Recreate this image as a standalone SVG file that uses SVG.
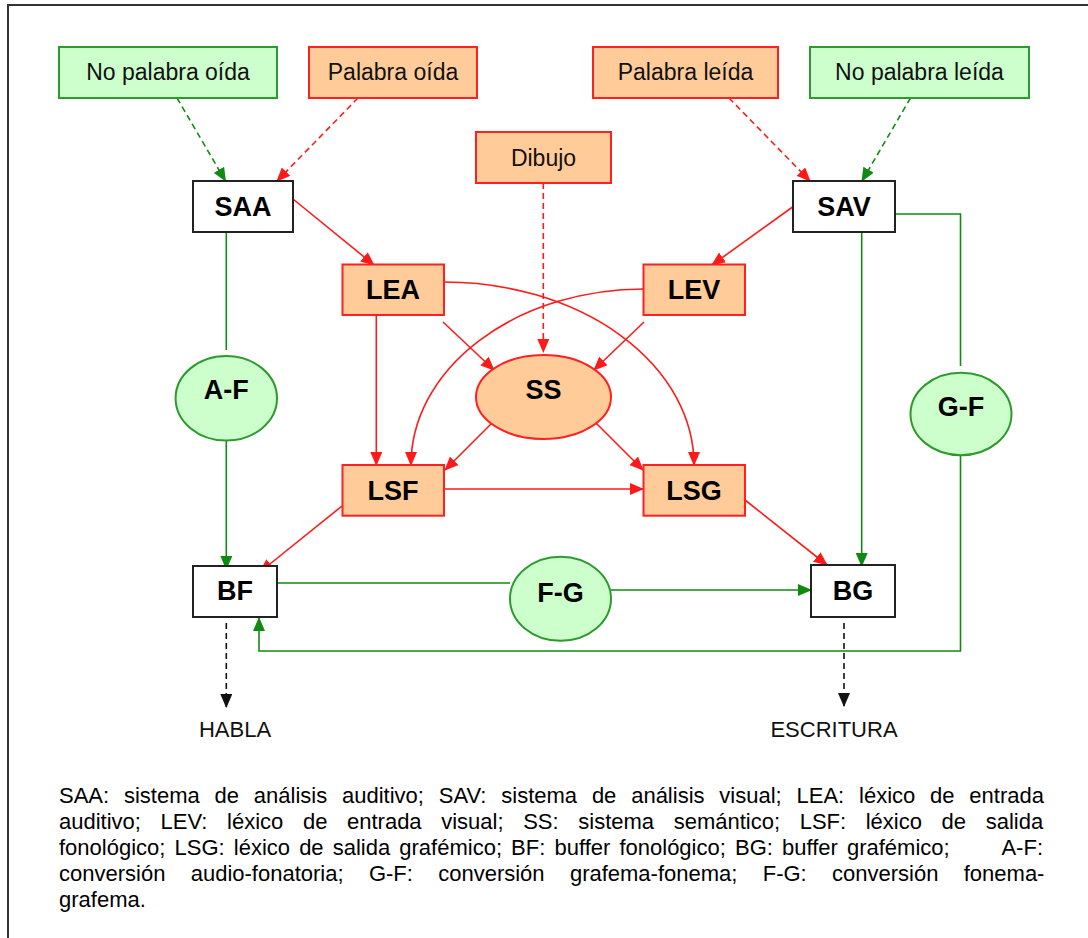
<svg xmlns="http://www.w3.org/2000/svg" width="1088" height="938" viewBox="0 0 1088 938">
<style>
.bg{fill:#fff}
.frame{fill:none;stroke:#333;stroke-width:2}
.org{fill:#FFCC99;stroke:#FF2020;stroke-width:2}
.grn{fill:#CCFFCC;stroke:#2E9A2E;stroke-width:2}
.wht{fill:#fff;stroke:#222;stroke-width:2}
.lbl{font-family:"Liberation Sans",Arial,sans-serif;font-size:23px;fill:#111;text-anchor:middle}
.big{font-family:"Liberation Sans",Arial,sans-serif;font-size:27px;font-weight:bold;fill:#000;text-anchor:middle}
.out{font-family:"Liberation Sans",Arial,sans-serif;font-size:22px;fill:#111;text-anchor:middle}
.cap{font-family:"Liberation Sans",Arial,sans-serif;font-size:22px;fill:#000}
.r{fill:none;stroke:#FF1A1A;stroke-width:1.6}
.g{fill:none;stroke:#118A11;stroke-width:1.6}
.k{fill:none;stroke:#111;stroke-width:1.6}
.d{stroke-dasharray:6 4}
.ra{marker-end:url(#ar)}
.ga{marker-end:url(#ag)}
.ka{marker-end:url(#ak)}
</style>
<defs>
<marker id="ar" markerUnits="userSpaceOnUse" markerWidth="14" markerHeight="12" viewBox="0 0 14 12" refX="13" refY="6" orient="auto"><path d="M0,0 L14,6 L0,12 Z" fill="#FF1A1A"/></marker>
<marker id="ag" markerUnits="userSpaceOnUse" markerWidth="14" markerHeight="12" viewBox="0 0 14 12" refX="13" refY="6" orient="auto"><path d="M0,0 L14,6 L0,12 Z" fill="#118A11"/></marker>
<marker id="ak" markerUnits="userSpaceOnUse" markerWidth="14" markerHeight="12" viewBox="0 0 14 12" refX="13" refY="6" orient="auto"><path d="M0,0 L14,6 L0,12 Z" fill="#111"/></marker>
</defs>
<rect class="bg" x="0" y="0" width="1088" height="938"/>
<path class="frame" d="M8,938 L8,5 L1088,5"/>

<g id="connectors">
<path class="g d ga" d="M177,98 L225.5,181"/>
<path class="r d ra" d="M358,98 L277,181"/>
<path class="r d ra" d="M729,98 L810,181"/>
<path class="g d ga" d="M910.5,98 L862,181"/>
<path class="r d ra" d="M543.3,183 L543.3,352"/>
<path class="r ra" d="M293,199 L374,265"/>
<path class="r ra" d="M794,206 L712,265"/>
<path class="r ra" d="M443,322 L494,370"/>
<path class="r ra" d="M644,322 L594,370"/>
<path class="r ra" d="M376.3,315 L376.3,465"/>
<path class="r ra" d="M444,282 A250,183 0 0 1 694,465"/>
<path class="r ra" d="M644,289 A233,176 0 0 0 411,465"/>
<path class="r ra" d="M492,423 L445,470"/>
<path class="r ra" d="M595,422 L643,470"/>
<path class="r ra" d="M444,489 L643,489"/>
<path class="r ra" d="M342,506 L260,572"/>
<path class="r ra" d="M745,500 L827,565"/>
<path class="g" d="M226.3,232 L226.3,350"/>
<path class="g ga" d="M226.3,441 L226.3,569"/>
<path class="g ga" d="M861.7,232 L861.7,566"/>
<path class="g" d="M895,214 L960.5,214 L960.5,366"/>
<path class="g ga" d="M960.5,449 L960.5,651 L259,651 L259,618"/>
<path class="g" d="M277,583 L510,583"/>
<path class="g ga" d="M611,590 L811,590"/>
<path class="k d ka" d="M226.3,623 L226.3,707"/>
<path class="k d ka" d="M844,623 L844,706"/>
</g>

<g id="no-palabra-oida"><rect class="grn" x="59" y="47" width="218" height="51"/><text class="lbl" x="168" y="80">No palabra oída</text></g>
<g id="palabra-oida"><rect class="org" x="309" y="47" width="168" height="51"/><text class="lbl" x="393" y="80">Palabra oída</text></g>
<g id="palabra-leida"><rect class="org" x="593" y="47" width="185" height="51"/><text class="lbl" x="685.5" y="80">Palabra leída</text></g>
<g id="no-palabra-leida"><rect class="grn" x="810" y="47" width="219" height="51"/><text class="lbl" x="919.5" y="80">No palabra leída</text></g>
<g id="dibujo"><rect class="org" x="476" y="132" width="135" height="51"/><text class="lbl" x="543.5" y="166">Dibujo</text></g>
<g id="SAA"><rect class="wht" x="193" y="181" width="100" height="51"/><text class="big" x="243" y="216">SAA</text></g>
<g id="SAV"><rect class="wht" x="793" y="181" width="102" height="51"/><text class="big" x="844" y="216">SAV</text></g>
<g id="LEA"><rect class="org" x="342.5" y="264.5" width="101.5" height="50.5"/><text class="big" x="393" y="299">LEA</text></g>
<g id="LEV"><rect class="org" x="643.5" y="264.5" width="101.5" height="50.5"/><text class="big" x="694" y="299">LEV</text></g>
<g id="SS"><ellipse class="org" cx="543.5" cy="397" rx="67.5" ry="42"/><text class="big" x="543.5" y="399">SS</text></g>
<g id="A-F"><ellipse class="grn" cx="226.3" cy="398.3" rx="50.7" ry="42.3"/><text class="big" x="226.3" y="399">A-F</text></g>
<g id="G-F"><ellipse class="grn" cx="961" cy="414" rx="50.5" ry="41.2"/><text class="big" x="961" y="416">G-F</text></g>
<g id="LSF"><rect class="org" x="342.5" y="465" width="101.5" height="50.7"/><text class="big" x="393" y="499.5">LSF</text></g>
<g id="LSG"><rect class="org" x="643.5" y="465" width="101.5" height="50.7"/><text class="big" x="694" y="499.5">LSG</text></g>
<g id="BF"><rect class="wht" x="193" y="566" width="84" height="51"/><text class="big" x="235" y="600">BF</text></g>
<g id="F-G"><ellipse class="grn" cx="560.5" cy="598.7" rx="50.5" ry="42"/><text class="big" x="560.5" y="601.5">F-G</text></g>
<g id="BG"><rect class="wht" x="811" y="565" width="84" height="52"/><text class="big" x="853" y="599.5">BG</text></g>
<g id="HABLA"><text class="out" x="235" y="737">HABLA</text></g>
<g id="ESCRITURA"><text class="out" x="834" y="737">ESCRITURA</text></g>

<g id="caption">
<text class="cap" x="59" y="803" word-spacing="8.7">SAA: sistema de análisis auditivo; SAV: sistema de análisis visual; LEA: léxico de entrada</text>
<text class="cap" x="59" y="829" word-spacing="13.5">auditivo; LEV: léxico de entrada visual; SS: sistema semántico; LSF: léxico de salida</text>
<text class="cap" x="59" y="855" word-spacing="3">fonológico; LSG: léxico de salida grafémico; BF: buffer fonológico; BG: buffer grafémico;</text>
<text class="cap" x="1043" y="855" text-anchor="end">A-F:</text>
<text class="cap" x="59" y="881" word-spacing="19.2">conversión audio-fonatoria; G-F: conversión grafema-fonema; F-G: conversión fonema-</text>
<text class="cap" x="59" y="907">grafema.</text>
</g>
</svg>
